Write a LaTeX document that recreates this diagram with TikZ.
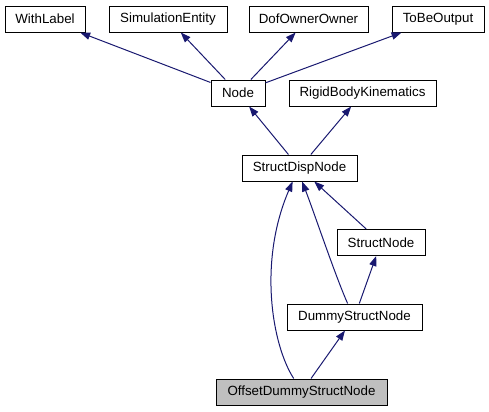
\documentclass[tikz,border=0pt]{standalone}
\usepackage{xcolor}
\usepackage{fontspec}
\setmainfont{Liberation Sans}
\usepackage{tikz}
\usetikzlibrary{arrows.meta}

\begin{document}
\begin{tikzpicture}[x=0.75pt,y=0.75pt,yscale=-1,xscale=1,
    box/.style={draw, line width=0.75pt, inner sep=0pt, minimum height=19.5pt, font=\fontsize{10}{12}\selectfont},
    edge/.style={draw={rgb, 255:red, 25; green, 25; blue, 112}, line width=0.75pt, -{Triangle[length=7.5pt,width=5.5pt]}}]
        \useasboundingbox (0,0) rectangle (489,411);

        \draw (45,19) node [box, minimum width=60pt] (WithLabel) {WithLabel};
        \draw (168,19) node [box, minimum width=88.5pt] (SimEntity) {SimulationEntity};
        \draw (308.5,19) node [box, minimum width=89.25pt] (DofOwner) {DofOwnerOwner};
        \draw (438,19) node [box, minimum width=69pt] (ToBeOutput) {ToBeOutput};
        \draw (238,93) node [box, minimum width=40.5pt] (Node) {Node};
        \draw (362.5,93) node [box, minimum width=110.25pt] (RigidBody) {RigidBodyKinematics};
        \draw (299.5,168) node [box, minimum width=86.25pt] (StructDisp) {StructDispNode};
        \draw (381,242.5) node [box, minimum width=66pt] (StructNode) {StructNode};
        \draw (354.5,317) node [box, minimum width=101.25pt] (DummyStruct) {DummyStructNode};
        \draw (301.5,392) node [box, minimum width=128.25pt, fill={rgb, 255:red, 191; green, 191; blue, 191}] (OffsetDummy) {OffsetDummyStructNode};

        \draw [edge] (Node) -- (WithLabel);
        \draw [edge] (Node) -- (SimEntity);
        \draw [edge] (Node) -- (DofOwner);
        \draw [edge] (Node) -- (ToBeOutput);
        \draw [edge] (StructDisp) -- (Node);
        \draw [edge] (StructDisp) -- (RigidBody);
        \draw [edge] (StructNode) -- (StructDisp);
        \draw [edge] (DummyStruct) -- (StructNode);
        \draw [edge] (OffsetDummy) -- (DummyStruct);
        \draw [edge] (DummyStruct.117) .. controls (335,275) and (315,215) .. (StructDisp.281);
        \draw [edge] (OffsetDummy.120) .. controls (272,345) and (258,262) .. (StructDisp.243);

    \end{tikzpicture}
\end{document}
